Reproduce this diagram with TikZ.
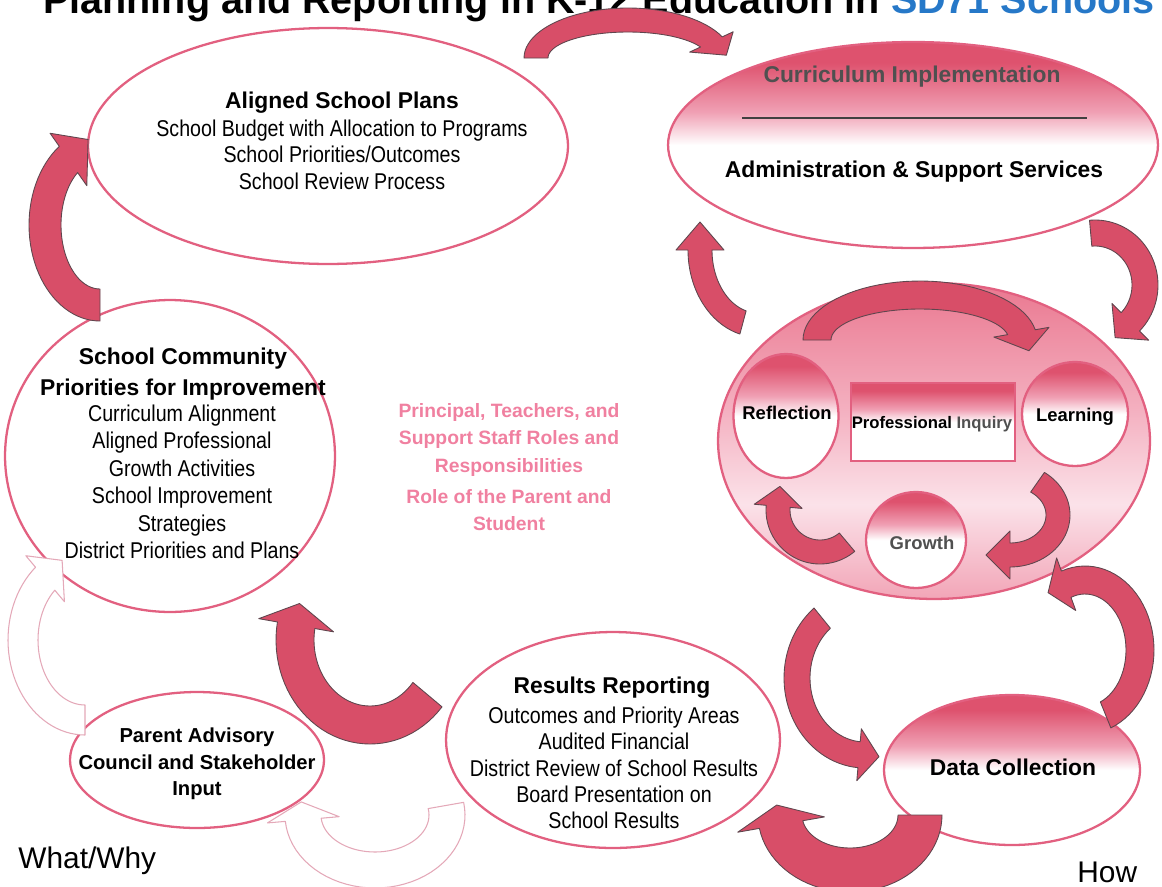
\documentclass[tikz,border=0pt]{standalone}
\usepackage{fontspec}
\setmainfont{Liberation Sans}
\newfontfamily\narrowfont[FakeStretch=0.86]{Liberation Sans}
\usetikzlibrary{shapes.geometric}

\definecolor{rim}{RGB}{226,96,128}
\definecolor{arrowred}{RGB}{216,78,104}
\definecolor{arrowedge}{RGB}{95,70,78}
\definecolor{ghost}{RGB}{228,168,184}
\definecolor{gradtop}{RGB}{222,82,110}
\definecolor{gradmid}{RGB}{240,160,180}
\definecolor{inqtop}{RGB}{234,120,144}
\definecolor{inqmid}{RGB}{244,176,192}
\definecolor{inqlight}{RGB}{251,226,233}
\definecolor{inqbot}{RGB}{242,165,183}
\definecolor{rolepink}{RGB}{240,128,160}
\definecolor{titleblue}{RGB}{38,120,200}
\definecolor{softgray}{RGB}{80,80,80}

\pgfdeclareverticalshading{pinkfade}{100bp}{color(0bp)=(white); color(25bp)=(white); color(50bp)=(white); color(58bp)=(gradmid); color(70bp)=(gradtop); color(100bp)=(gradtop)}
\pgfdeclareverticalshading{inqfade}{100bp}{color(0bp)=(inqbot); color(25bp)=(inqbot); color(40bp)=(inqlight); color(55bp)=(inqmid); color(75bp)=(inqtop); color(100bp)=(inqtop)}

\newcommand{\headfont}{\bfseries\fontsize{13}{15}\selectfont}
\newcommand{\bodyfont}{\narrowfont\fontsize{13}{15}\selectfont}

\tikzset{
  bubble/.style={ellipse, draw=rim, line width=1.3pt, fill=white, inner sep=0pt},
  faded/.style={shade, shading=pinkfade},
  headtext/.style={font=\headfont, inner sep=0pt},
  bodytext/.style={font=\bodyfont, align=center, inner sep=0pt, anchor=north},
  innertext/.style={font=\bfseries\fontsize{10.5}{12}\selectfont, inner sep=0pt, anchor=base},
  bentarrow/.style={fill=arrowred, draw=arrowedge, line width=0.5pt, line join=round},
  ghostarrow/.style={fill=white, draw=ghost, line width=0.6pt, line join=round},
}

% curved block arrow: [style] cx cy rx ry from-angle to-angle width head-length
\newcommand{\bent}[9][bentarrow]{%
  \pgfmathsetmacro{\bentsg}{sign((#7)-(#6))}%
  \pgfmathsetmacro{\bentnn}{sqrt((#4*sin(#7))^2+(#5*cos(#7))^2)}%
  \pgfmathsetmacro{\benttx}{#2+#4*cos(#7)-\bentsg*#9*#4*sin(#7)/\bentnn}%
  \pgfmathsetmacro{\bentty}{#3+#5*sin(#7)+\bentsg*#9*#5*cos(#7)/\bentnn}%
  \pgfmathsetmacro{\benthw}{#8/2}%
  \filldraw[#1] plot[domain=#6:#7, samples=40] ({#2+(#4+\benthw)*cos(\x)},{#3+(#5+\benthw)*sin(\x)})
    -- ({#2+(#4+#8)*cos(#7)},{#3+(#5+#8)*sin(#7)})
    -- (\benttx,\bentty)
    -- ({#2+(#4-#8)*cos(#7)},{#3+(#5-#8)*sin(#7)})
    -- plot[domain=#7:#6, samples=40] ({#2+(#4-\benthw)*cos(\x)},{#3+(#5-\benthw)*sin(\x)})
    -- cycle;}

\begin{document}
\begin{tikzpicture}[x=0.02cm, y=-0.02cm]
	\useasboundingbox (0,0) rectangle (1162,886);
	\clip (0,0) rectangle (1162,886);
	% title, cut off at the top
	\node[anchor=base east, font=\bfseries\fontsize{22.5}{24}\selectfont, inner sep=0pt] (title) at (1155,13) {Planning and Reporting in K-12 Education in \textcolor{titleblue}{SD71 Schools}};

	% bubbles
	\node[bubble, minimum width=9.6cm, minimum height=4.72cm] (plans) at (328,146) {};
	\node[bubble, faded, minimum width=9.8cm, minimum height=4.12cm] (curric) at (913,145) {};
	\node[bubble, shade, shading=inqfade, minimum width=8.64cm, minimum height=6.32cm] (inquiry) at (934,441) {};
	\node[bubble, faded, minimum width=2.1cm, minimum height=2.48cm] (reflect) at (786,416) {};
	\node[draw=rim, line width=1.3pt, faded, minimum width=3.28cm, minimum height=1.56cm, inner sep=0pt] (profinq) at (933,422) {};
	\node[bubble, faded, minimum width=2.12cm, minimum height=2.08cm] (learn) at (1075,414) {};
	\node[bubble, faded, minimum width=2cm, minimum height=1.92cm] (growth) at (916,540) {};
	\node[bubble, faded, minimum width=5.12cm, minimum height=3cm] (datacoll) at (1012,770) {};
	\node[bubble, minimum width=6.68cm, minimum height=4.32cm] (results) at (613,740) {};
	\node[bubble, minimum width=5.08cm, minimum height=2.72cm] (parent) at (197,760) {};
	\node[bubble, minimum width=6.6cm, minimum height=6.24cm] (community) at (170,456) {};

	% arrows
	\bent{628}{58}{92}{38}{180}{335}{24}{20}
	\bent{100}{225}{55}{80}{90}{235}{32}{28}
	\bent{1095}{285}{50}{52}{265}{405}{26}{22}
	\bent{758}{250}{58}{75}{105}{180}{24}{28}
	\bent{920}{340}{103}{45}{180}{350}{28}{20}
	\bent{1010}{515}{48}{40}{305}{450}{24}{24}
	\bent{820}{510}{42}{42}{50}{185}{24}{20}
	\bent{1085}{650}{55}{70}{68}{-110}{28}{20}
	\bent{865}{678}{68}{77}{231}{95}{26}{20}
	\bent{850}{815}{70}{55}{0}{170}{44}{20}
	\bent{370}{640}{75}{85}{40}{190}{38}{22}
	\bent[ghostarrow]{85}{640}{62}{80}{90}{230}{30}{25}
	\bent[ghostarrow]{375}{815}{72}{55}{-10}{175}{36}{18}

	% texts
	\node[headtext, anchor=base] (plans head) at (342,108) {Aligned School Plans};
	\node[bodytext] (plans body) at (342,119.6) {School Budget with Allocation to Programs\\School Priorities/Outcomes\\School Review Process};

	\node[headtext, text=softgray, anchor=base] (curric top) at (912,82) {Curriculum Implementation};
	\draw[line width=0.9pt, black!75] (742,118) -- (1087,118);
	\node[headtext, anchor=base] (curric bottom) at (914,177) {Administration \& Support Services};

	\node[innertext] (reflect text) at (787,419) {Reflection};
	\node[innertext, font=\bfseries\fontsize{9.5}{11}\selectfont] (profinq text) at (932,428) {Professional \textcolor{softgray}{Inquiry}};
	\node[innertext] (learn text) at (1075,421) {Learning};
	\node[innertext, text=softgray] (growth text) at (922,549) {Growth};

	\node[headtext, align=center, anchor=north, font=\bfseries\fontsize{13}{17.6}\selectfont] (community head) at (183,347.6) {School Community\\Priorities for Improvement};
	\node[bodytext, font=\narrowfont\fontsize{13}{15.6}\selectfont] (community body) at (182,404.6) {Curriculum Alignment\\Aligned Professional\\Growth Activities\\School Improvement\\Strategies\\District Priorities and Plans};

	\node[align=center, anchor=north, inner sep=0pt, text=rolepink, font=\bfseries\fontsize{11}{15.6}\selectfont] (roles) at (509,403.2) {Principal, Teachers, and\\Support Staff Roles and\\Responsibilities};
	\node[align=center, anchor=north, inner sep=0pt, text=rolepink, font=\bfseries\fontsize{11}{15.6}\selectfont] (parent role) at (509,489.2) {Role of the Parent and\\Student};

	\node[headtext, anchor=base] (results head) at (612,693) {Results Reporting};
	\node[bodytext] (results body) at (614,706.6) {Outcomes and Priority Areas\\Audited Financial\\District Review of School Results\\Board Presentation on\\School Results};

	\node[align=center, anchor=north, inner sep=0pt, font=\bfseries\fontsize{11.5}{15.1}\selectfont] (parent text) at (197,727.5) {Parent Advisory\\Council and Stakeholder\\Input};

	\node[headtext, anchor=base] (datacoll text) at (1013,775) {Data Collection};

	\node[anchor=base west, inner sep=0pt, font=\fontsize{17}{20}\selectfont] (what) at (18,868) {What/Why};
	\node[anchor=base west, inner sep=0pt, font=\fontsize{17}{20}\selectfont] (how) at (1077,882) {How};
\end{tikzpicture}
\end{document}
